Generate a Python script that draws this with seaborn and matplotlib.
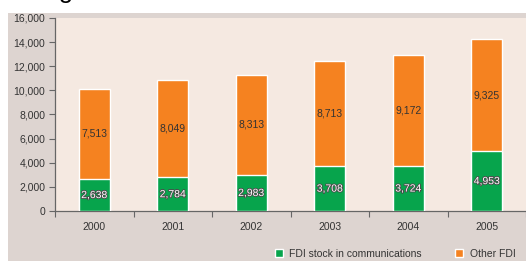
import matplotlib
matplotlib.use("Agg")
import matplotlib.pyplot as plt
import matplotlib.patheffects as pe
from matplotlib.patches import Rectangle
from matplotlib.ticker import FuncFormatter, FixedLocator
import seaborn as sns
import pandas as pd

years = ["2000", "2001", "2002", "2003", "2004", "2005"]
comms = [2638, 2784, 2983, 3708, 3724, 4953]
other = [7513, 8049, 8313, 8713, 9172, 9325]
series_names = ["FDI stock in communications", "Other FDI"]

GREEN = "#07A44C"
ORANGE = "#F58220"
PLOT_BG = "#F5E9E1"
OUTER_BG = "#DDD4D0"
TXT = "#333333"

sns.set_theme(style="white")
plt.rcParams["font.family"] = ["Liberation Sans", "DejaVu Sans"]

df = pd.DataFrame({"year": years, "comms": comms, "other": other})
df["total"] = df["comms"] + df["other"]

W, H = 526, 261
fig = plt.figure(figsize=(W / 100, H / 100), dpi=100, facecolor="white")
bgax = fig.add_axes([8 / W, 0, 1 - 8 / W, (H - 13) / H], zorder=0)
bgax.set_facecolor(OUTER_BG)
bgax.set_xticks([])
bgax.set_yticks([])
for s in bgax.spines.values():
    s.set_visible(False)

ax = fig.add_axes([55 / W, (H - 211) / H, 1 - 55 / W, (211 - 18) / H], zorder=1)
ax.set_facecolor(PLOT_BG)

sns.barplot(data=df, x="year", y="total", color=ORANGE, width=0.4,
            saturation=1, ax=ax, zorder=2)
sns.barplot(data=df, x="year", y="comms", color=GREEN, width=0.4,
            saturation=1, ax=ax, zorder=3)

for i, (c, o) in enumerate(zip(comms, other)):
    ax.text(i, c / 2, f"{c:,}", ha="center", va="center", fontsize=7.5,
            color="white", zorder=5,
            path_effects=[pe.withStroke(linewidth=1.2, foreground="#4a4a4a")])
    ax.text(i, c + o / 2, f"{o:,}", ha="center", va="center", fontsize=7.5,
            color=TXT, zorder=5)

ax.set_xlim(-0.5, 5.5)
ax.set_ylim(0, 16000)
ax.set_yticks(range(0, 16001, 2000))
ax.yaxis.set_major_formatter(FuncFormatter(lambda v, p: f"{int(v):,}"))
ax.set_xlabel("")
ax.set_ylabel("")
ax.xaxis.set_minor_locator(FixedLocator([i - 0.5 for i in range(7)]))
ax.tick_params(axis="x", which="major", length=0, labelsize=7.5,
               labelcolor=TXT, pad=8)
ax.tick_params(axis="x", which="minor", length=4, width=0.8,
               color="#666666", direction="out", bottom=True)
ax.tick_params(axis="y", which="major", length=4, width=0.8,
               color="#666666", labelsize=7.5, labelcolor=TXT, pad=3,
               direction="out", left=True)
for s in ["top", "right"]:
    ax.spines[s].set_visible(False)
for s in ["left", "bottom"]:
    ax.spines[s].set_color("#666666")
    ax.spines[s].set_linewidth(0.9)

handles = [Rectangle((0, 0), 1, 1, facecolor=GREEN),
           Rectangle((0, 0), 1, 1, facecolor=ORANGE)]
fig.legend(handles, series_names, loc="center", bbox_to_anchor=(395 / W, 7 / H),
           ncol=2, frameon=False, fontsize=7.5, handlelength=0.8,
           handleheight=0.8, handletextpad=0.6, columnspacing=3.2,
           labelcolor=TXT)

fig.text(0 / W, 1 + 2 / H, "Foreign direct investment into communications",
         ha="left", va="baseline", fontsize=18.5, color="black")

fig.savefig("out.png", dpi=100, facecolor="white")
